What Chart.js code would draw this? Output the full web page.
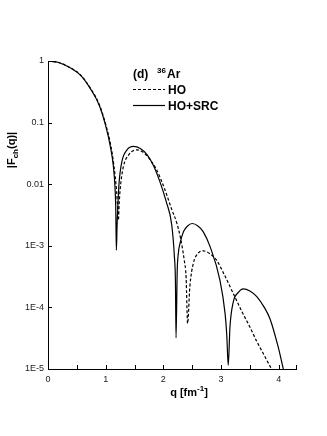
<!DOCTYPE html>
<html>
<head>
<meta charset="utf-8">
<script src="https://cdn.jsdelivr.net/npm/chart.js@4.4.0/dist/chart.umd.min.js"></script>
<style>
  html, body { margin: 0; padding: 0; background: #fff; }
  #wrap { width: 327px; height: 436px; }
</style>
</head>
<body>
<div id="wrap"><canvas id="formFactorChart" width="327" height="436"></canvas></div>
<script>
// HO+SRC curve, q [fm^-1] and |F_ch(q)|
const qSrc = [0, 0.17, 0.4, 0.57, 0.74, 0.89, 1.0, 1.09, 1.13, 1.16, 1.175, 1.185, 1.2, 1.21, 1.23, 1.28, 1.37, 1.48, 1.6, 1.72, 1.83, 1.94, 2.05, 2.145, 2.19, 2.21, 2.22, 2.24, 2.26, 2.29, 2.35, 2.42, 2.5, 2.6, 2.69, 2.81, 2.98, 3.07, 3.1, 3.125, 3.155, 3.21, 3.3, 3.385, 3.5, 3.62, 3.75, 3.85, 3.99, 4.08];
const fSrc = [1, 0.955, 0.76, 0.58, 0.35, 0.19, 0.089, 0.037, 0.021, 0.0095, 0.004, 0.00085, 0.0025, 0.0041, 0.0098, 0.023, 0.036, 0.041, 0.038, 0.03, 0.02, 0.011, 0.0052, 0.0022, 0.0007, 0.00025, 0.000032, 0.00038, 0.00076, 0.0011, 0.0017, 0.0021, 0.0023, 0.0021, 0.0017, 0.00097, 0.00028, 0.00008, 0.000035, 0.0000115, 0.000048, 0.00012, 0.000175, 0.0002, 0.000185, 0.00015, 0.0001, 0.000065, 0.000023, 0.00001];

// HO curve
const qHo = [0, 0.17, 0.4, 0.57, 0.74, 0.89, 1.0, 1.09, 1.14, 1.19, 1.205, 1.22, 1.235, 1.25, 1.3, 1.4, 1.54, 1.65, 1.77, 1.885, 2.03, 2.145, 2.23, 2.3, 2.36, 2.395, 2.42, 2.46, 2.52, 2.6, 2.69, 2.8, 2.92, 3.05, 3.21, 3.35, 3.5, 3.62, 3.73, 3.875];
const fHo = [1, 0.955, 0.765, 0.585, 0.355, 0.195, 0.094, 0.042, 0.021, 0.0075, 0.0045, 0.0026, 0.005, 0.008, 0.018, 0.03, 0.036, 0.033, 0.025, 0.017, 0.008, 0.0039, 0.0024, 0.0013, 0.0006, 0.0003, 0.000055, 0.00022, 0.00052, 0.00075, 0.00083, 0.00075, 0.00059, 0.00035, 0.00017, 0.00009, 0.000048, 0.000028, 0.000018, 0.00001];

// axes
const xTicks = [0, 0.5, 1, 1.5, 2, 2.5, 3, 3.5, 4, 4.3];
const yTicks = [1, 0.1, 0.01, 1e-3, 1e-4, 1e-5];
const yTickLabels = ["1", "0.1", "0.01", "1E-3", "1E-4", "1E-5"];

const FONT = "'Liberation Sans', Arial, Helvetica, sans-serif";

function toPoints(xs, ys) {
    return xs.map((x, i) => ({ x: x, y: ys[i] }));
}

// inward tick marks, axis titles and the little legend block
const decorations = {
    id: "decorations",
    afterDraw(chart) {
        const ctx = chart.ctx;
        const xs = chart.scales.x;
        const ys = chart.scales.y;
        const area = chart.chartArea;

        ctx.save();
        ctx.strokeStyle = "#000";
        ctx.lineWidth = 1;
        ctx.beginPath();
        xTicks.forEach(v => {
            const px = Math.round(xs.getPixelForValue(v)) + 0.5;
            ctx.moveTo(px, area.bottom);
            ctx.lineTo(px, area.bottom - 4);
        });
        yTicks.forEach(v => {
            const py = Math.round(ys.getPixelForValue(v)) + 0.5;
            ctx.moveTo(area.left, py);
            ctx.lineTo(area.left + 4, py);
        });
        ctx.stroke();

        ctx.fillStyle = "#000";
        ctx.textBaseline = "alphabetic";

        // y title |F_ch(q)|
        ctx.save();
        ctx.translate(15, 150);
        ctx.rotate(-Math.PI / 2);
        const big = "bold 11px " + FONT;
        const small = "bold 8px " + FONT;
        ctx.font = big;
        const w1 = ctx.measureText("|F").width;
        const w3 = ctx.measureText("(q)|").width;
        ctx.font = small;
        const w2 = ctx.measureText("ch").width;
        let x0 = -(w1 + w2 + w3) / 2;
        ctx.font = big;
        ctx.fillText("|F", x0, 0);
        ctx.font = small;
        ctx.fillText("ch", x0 + w1, 3);
        ctx.font = big;
        ctx.fillText("(q)|", x0 + w1 + w2, 0);
        ctx.restore();

        // x title q [fm-1]
        ctx.font = big;
        const a = ctx.measureText("q [fm").width;
        const c = ctx.measureText("]").width;
        ctx.font = small;
        const b = ctx.measureText("-1").width;
        let xl = 189 - (a + b + c) / 2;
        ctx.font = big;
        ctx.fillText("q [fm", xl, 396);
        ctx.font = small;
        ctx.fillText("-1", xl + a, 391);
        ctx.font = big;
        ctx.fillText("]", xl + a + b, 396);

        // legend block
        ctx.font = "bold 12px " + FONT;
        ctx.fillText("(d)", 133, 78);
        ctx.font = "bold 8px " + FONT;
        ctx.fillText("36", 157, 73);
        ctx.font = "bold 12px " + FONT;
        ctx.fillText("Ar", 167, 78);
        ctx.fillText("HO", 168, 94);
        ctx.fillText("HO+SRC", 168, 110);

        ctx.lineWidth = 1.2;
        ctx.setLineDash([3, 2]);
        ctx.beginPath();
        ctx.moveTo(133, 89.5);
        ctx.lineTo(165, 89.5);
        ctx.stroke();
        ctx.setLineDash([]);
        ctx.beginPath();
        ctx.moveTo(133, 105.5);
        ctx.lineTo(165, 105.5);
        ctx.stroke();
        ctx.restore();
    }
};

new Chart("formFactorChart", {
    type: "line",
    data: {
        datasets: [{
            label: "HO",
            data: toPoints(qHo, fHo),
            borderColor: "#000",
            borderWidth: 1.2,
            borderDash: [3, 2],
            pointRadius: 0,
            cubicInterpolationMode: "monotone",
            fill: false
        }, {
            label: "HO+SRC",
            data: toPoints(qSrc, fSrc),
            borderColor: "#000",
            borderWidth: 1.2,
            pointRadius: 0,
            cubicInterpolationMode: "monotone",
            fill: false
        }]
    },
    options: {
        responsive: false,
        animation: false,
        layout: { padding: { top: 61, right: 31, left: 0, bottom: 0 } },
        plugins: {
            legend: { display: false },
            tooltip: { enabled: false }
        },
        scales: {
            x: {
                type: "linear",
                min: 0,
                max: 4.3,
                afterBuildTicks: s => { s.ticks = xTicks.map(v => ({ value: v })); },
                afterFit: s => { s.height = 67; },
                grid: { display: false, drawTicks: false },
                border: { display: true, color: "#000", width: 1 },
                ticks: {
                    autoSkip: false,
                    maxRotation: 0,
                    padding: 5,
                    color: "#222",
                    font: { family: FONT, size: 9 },
                    callback: v => (Number.isInteger(v) ? String(v) : "")
                }
            },
            y: {
                type: "logarithmic",
                min: 1e-5,
                max: 1,
                afterBuildTicks: s => { s.ticks = yTicks.map(v => ({ value: v })); },
                afterFit: s => { s.width = 48; },
                grid: { display: false, drawTicks: false },
                border: { display: true, color: "#000", width: 1 },
                ticks: {
                    autoSkip: false,
                    padding: 4,
                    color: "#222",
                    font: { family: FONT, size: 9 },
                    callback: v => {
                        const i = yTicks.findIndex(t => Math.abs(Math.log10(t) - Math.log10(v)) < 1e-6);
                        return i >= 0 ? yTickLabels[i] : "";
                    }
                }
            }
        }
    },
    plugins: [decorations]
});
</script>
</body>
</html>
